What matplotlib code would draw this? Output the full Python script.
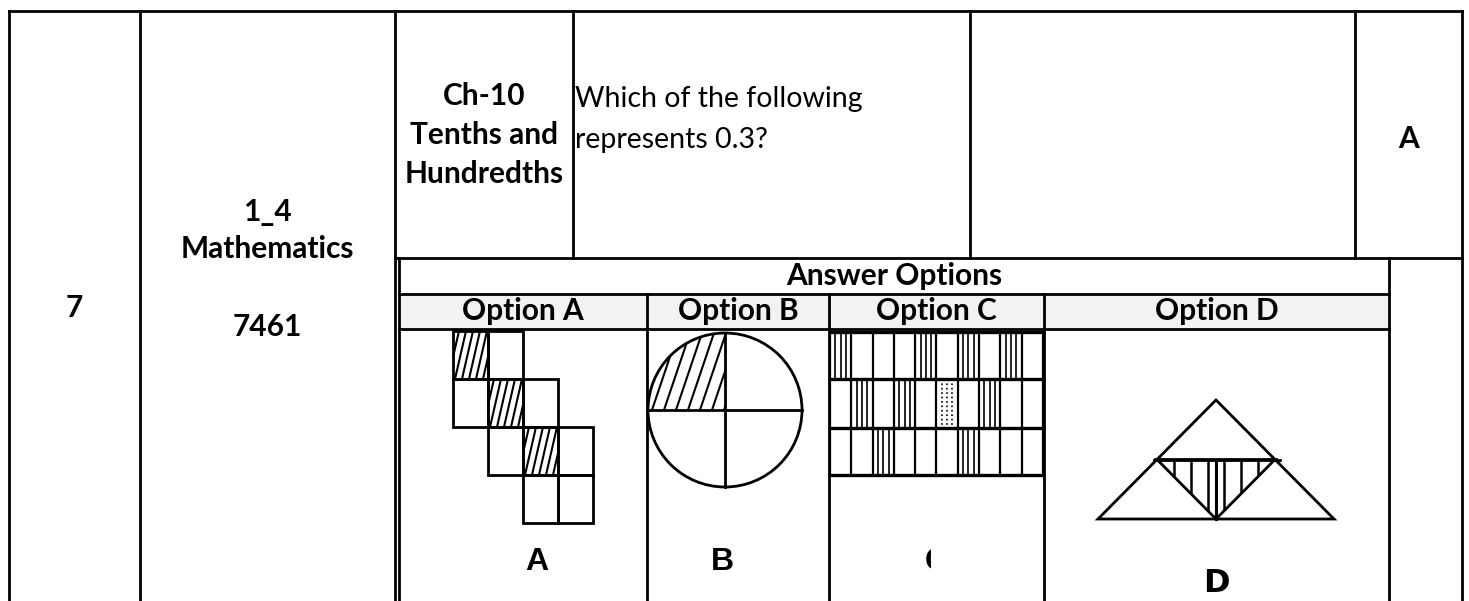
import matplotlib
matplotlib.use("Agg")
import matplotlib.pyplot as plt
from matplotlib import patches
import numpy as np

plt.rcParams['font.family'] = ['Lato', 'DejaVu Sans']

# table content
row_number = "7"
subject_lines = ["1_4", "Mathematics", "7461"]
chapter_lines = ["Ch-10", "Tenths and", "Hundredths"]
question_lines = ["Which of the following", "represents 0.3?"]
answer_key = "A"
options_title = "Answer Options"
option_headers = ["Option A", "Option B", "Option C", "Option D"]
option_labels = ["A", "B", "C", "D"]

# option A picture: staircase of squares (row, col, shaded)
stair_cells = [(0, 0, 1), (0, 1, 0),
               (1, 0, 0), (1, 1, 1), (1, 2, 0),
               (2, 1, 0), (2, 2, 1), (2, 3, 0),
               (3, 2, 0), (3, 3, 0)]
# option C picture: 3 x 10 strips, shaded cells per row
strip_cols = 10
strip_shaded = [[0, 4, 6, 8], [1, 3, 5, 7], [2, 6]]
strip_dotted = [(1, 5)]

# page layout (pixels)
W, H = 1469, 601
top_cols = [9, 140, 395, 573, 970, 1355, 1462]
opt_cols = [399, 647, 829, 1044, 1389]
top_y, row1_y, title_y, head_y = 11, 258, 294, 329

LW = 2.0
fig = plt.figure(figsize=(W / 100, H / 100), dpi=100)
ax = fig.add_axes([0, 0, 1, 1])
ax.set_xlim(0, W)
ax.set_ylim(H, 0)
ax.axis('off')


def hline(y, x0, x1, lw=LW, **kw):
    ax.plot([x0, x1], [y, y], color='black', lw=lw, solid_capstyle='projecting', **kw)


def vline(x, y0, y1, lw=LW, **kw):
    ax.plot([x, x], [y0, y1], color='black', lw=lw, solid_capstyle='projecting', **kw)


# grey header band
ax.add_patch(patches.Rectangle((opt_cols[0], title_y), opt_cols[-1] - opt_cols[0],
                               head_y - title_y, facecolor='#f2f2f2', edgecolor='none'))

# outer table grid
hline(top_y, top_cols[0], top_cols[-1])
for x in [top_cols[0], top_cols[1], top_cols[2], top_cols[-1]]:
    vline(x, top_y, H + 5)
for x in top_cols[3:-1]:
    vline(x, top_y, row1_y)
hline(row1_y, top_cols[2], top_cols[-1])

# nested answer table
vline(opt_cols[0], row1_y, H + 5)
vline(opt_cols[-1], row1_y, H + 5)
hline(title_y, opt_cols[0], opt_cols[-1])
hline(head_y, opt_cols[0], opt_cols[-1])
for x in opt_cols[1:-1]:
    vline(x, title_y, H + 5)

FS = 21.5
BOLD = dict(fontsize=FS, fontweight='bold', color='black')

# left columns
ax.text((top_cols[0] + top_cols[1]) / 2, 308, row_number, ha='center', va='center', **BOLD)
cx = (top_cols[1] + top_cols[2]) / 2
for y, s in zip([212, 249, 327], subject_lines):
    ax.text(cx, y, s, ha='center', va='center', **BOLD)
cx = (top_cols[2] + top_cols[3]) / 2
for y, s in zip([96, 135, 174], chapter_lines):
    ax.text(cx, y, s, ha='center', va='center', **BOLD)
for y, s in zip([107, 148], question_lines):
    ax.text(top_cols[3] + 2, y, s, ha='left', va='baseline', fontsize=20.5, color='black')
ax.text((top_cols[5] + top_cols[6]) / 2, 139, answer_key, ha='center', va='center', **BOLD)

# answer options headers
ax.text((opt_cols[0] + opt_cols[-1]) / 2, 276, options_title, ha='center', va='center', **BOLD)
for i, s in enumerate(option_headers):
    ax.text((opt_cols[i] + opt_cols[i + 1]) / 2, 311, s, ha='center', va='center', **BOLD)

LBL = dict(fontsize=23, fontweight='bold', color='black',
           family=['Liberation Sans Narrow', 'Liberation Sans', 'DejaVu Sans'])

# option A: staircase
x0, y0, cw, ch = 453, 331, 35, 48
for r, c, shaded in stair_cells:
    sq = patches.Rectangle((x0 + c * cw, y0 + r * ch), cw, ch, fill=False, lw=LW, edgecolor='black')
    ax.add_patch(sq)
    if shaded:
        clip = patches.Rectangle((x0 + c * cw, y0 + r * ch), cw, ch, fill=False, lw=0)
        ax.add_patch(clip)
        for xb in np.arange(x0 + c * cw - 12, x0 + (c + 1) * cw + 2, 7):
            ln, = ax.plot([xb, xb + 11], [y0 + (r + 1) * ch, y0 + r * ch], color='black', lw=1.5)
            ln.set_clip_path(clip)
ax.text(537, 570, option_labels[0], ha='center', va='baseline', **LBL)

# option B: circle with shaded quarter
bcx, bcy, br = 725, 410, 77
ax.add_patch(patches.Circle((bcx, bcy), br, fill=False, lw=LW, edgecolor='black'))
hline(bcy, bcx - br, bcx + br)
vline(bcx, bcy - br, bcy + br)
t = np.linspace(np.pi / 2, np.pi, 60)
quad = np.vstack([[bcx, bcy], np.column_stack([bcx + br * np.cos(t), bcy - br * np.sin(t)])])
qclip = patches.Polygon(quad, closed=True, fill=False, lw=0)
ax.add_patch(qclip)
for xb in np.arange(bcx - br - 20, bcx + 5, 12):
    ln, = ax.plot([xb, xb + 26], [bcy, bcy - br], color='black', lw=1.5)
    ln.set_clip_path(qclip)
ax.text(722, 570, option_labels[1], ha='center', va='baseline', **LBL)

# option C: strips
sx0, sx1 = 830, 1043
row_edges = [332, 379, 428, 475]
sw = (sx1 - sx0) / strip_cols
for ye in row_edges:
    hline(ye, sx0, sx1, lw=2.4)
for r in range(len(row_edges) - 1):
    for c in range(strip_cols + 1):
        vline(sx0 + c * sw, row_edges[r], row_edges[r + 1], lw=1.6)
    for c in strip_shaded[r]:
        ls = ':' if (r, c) in strip_dotted else '-'
        for k in (1, 2, 3):
            vline(sx0 + c * sw + k * sw / 4, row_edges[r], row_edges[r + 1], lw=1.2, linestyle=ls)
ctext = ax.text(936, 570, option_labels[2], ha='center', va='baseline', clip_on=True, **LBL)
cclip = patches.Rectangle((918, 540), 13, 40, transform=ax.transData)
ctext.set_clip_path(cclip)

# option D: triangle with shaded middle
apex = (1216, 400)
bl, brt = (1098, 519), (1334, 519)
ax.add_patch(patches.Polygon([apex, bl, brt], closed=True, fill=False, lw=LW, edgecolor='black'))
ml = ((apex[0] + bl[0]) / 2, (apex[1] + bl[1]) / 2)
mr = ((apex[0] + brt[0]) / 2, (apex[1] + brt[1]) / 2)
mb = (apex[0], bl[1])
inner = patches.Polygon([ml, mr, mb], closed=True, fill=False, lw=LW, edgecolor='black')
ax.add_patch(inner)
hline(ml[1], ml[0] - 3, mr[0] + 5)
for dx in np.linspace(-42, 42, 6):
    ln, = ax.plot([apex[0] + dx, apex[0] + dx], [ml[1], mb[1]], color='black', lw=1.8)
    ln.set_clip_path(inner)
vline(apex[0], ml[1], mb[1], lw=2.2)
ax.text(1216, 599, option_labels[3], ha='center', va='bottom', fontsize=23, fontweight='bold',
        color='black', family=['DejaVu Sans'])

fig.savefig('out.png', dpi=100, facecolor='white')
